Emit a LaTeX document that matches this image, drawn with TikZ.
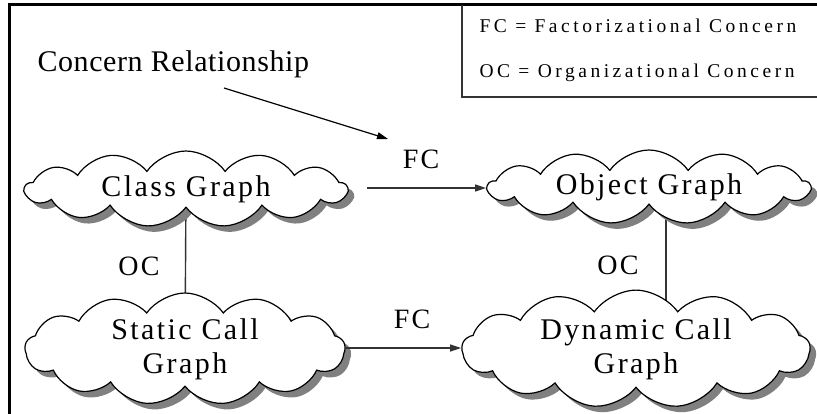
\documentclass[tikz,border=0pt]{standalone}
\usepackage{fontspec}
\setmainfont{Liberation Serif}
\newfontfamily\widefont{Liberation Serif}[LetterSpace=8]
\newfontfamily\titlefont{Liberation Serif}[LetterSpace=2]
\newfontfamily\legendfont{Liberation Serif}[LetterSpace=18]
\usetikzlibrary{shapes.symbols,shadows,arrows.meta,positioning,calc,backgrounds}

\begin{document}
\begin{tikzpicture}[x=1pt,y=-1pt,
		graphcloud/.style={cloud,cloud puffs=13,cloud puff arc=110,cloud ignores aspect,draw=black,line width=1.2pt,fill=white,inner sep=0pt,align=center,font=\widefont\fontsize{30}{34}\selectfont,drop shadow={shadow xshift=6pt,shadow yshift=-6pt,fill=black!50,opacity=1}},
		conn/.style={draw=black!80,line width=1.4pt},
		rel/.style={conn,-{Triangle[length=11pt,width=7pt]}},
		lbl/.style={font=\widefont\fontsize{28}{34}\selectfont}]
		\useasboundingbox (0,0) rectangle (817,413);
		\draw[line width=2.5pt] (9.5,420) |- (820,4.5);
		\draw[draw=black!80,line width=1.2pt] (462,4.5) |- (820,97);
		\node[anchor=base west,font=\legendfont\fontsize{19.5}{22}\selectfont] (fcKey) at (476,32) {FC = Factorizational Concern};
		\node[anchor=base west,font=\legendfont\fontsize{19.5}{22}\selectfont] (ocKey) at (476,77) {OC = Organizational Concern};
		\node[anchor=base west,font=\titlefont\fontsize{30}{34}\selectfont] (crLabel) at (34,71) {Concern Relationship};
		\node[graphcloud,minimum width=322,minimum height=76] (cg) at (186,189) {Class Graph};
		\node[graphcloud,minimum width=322,minimum height=74] (og) at (649,187) {Object Graph};
		\node[graphcloud,minimum width=320,minimum height=112] (scg) at (185,349) {Static Call\\Graph};
		\node[graphcloud,minimum width=348,minimum height=112] (dcg) at (636,349) {Dynamic Call\\Graph};
		\coordinate (crStart) at (224,88);
		\coordinate (crEnd) at (388,139);
		\draw[draw=black,line width=1.2pt,-{Triangle[length=11pt,width=7pt]}] (crStart) -- (crEnd);
		\draw[rel] ([xshift=18pt]cg.east |- 0,188) -- (og.west |- 0,188);
		\draw[rel] (scg.east |- 0,348) -- (dcg.west |- 0,348);
		\begin{scope}[on background layer]
			\draw[conn] (cg.center) -- (scg.center);
			\coordinate (ocTop) at ($(og.center)+(17,0)$);
			\draw[conn] (ocTop) -- (ocTop |- dcg.center);
		\end{scope}
		\node[lbl] (fcTop) at (421,159) {FC};
		\node[lbl] (fcBottom) at (412,319) {FC};
		\node[lbl] (ocLeft) at (139,266) {OC};
		\node[lbl] (ocRight) at (618,265) {OC};
	\end{tikzpicture}
\end{document}
